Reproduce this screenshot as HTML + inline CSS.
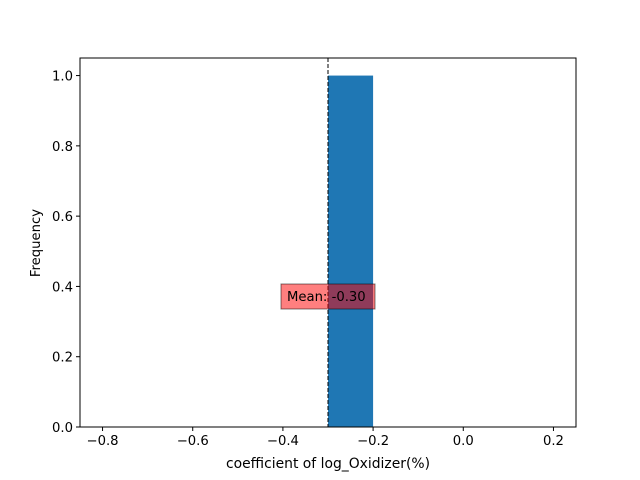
<!DOCTYPE html>
<html><head><meta charset="utf-8"><style>body{margin:0;background:#fff}svg{display:block;font-family:"DejaVu Sans","Liberation Sans",sans-serif}</style></head>
<body>
<svg id="c" width="640" height="480" xmlns="http://www.w3.org/2000/svg"></svg>
<script>
const binEdges = [-0.3, -0.2];
const binCounts = [1.0];
const meanValue = -0.30;
const xTicks = [-0.8, -0.6, -0.4, -0.2, 0.0, 0.2];
const yTicks = [0.0, 0.2, 0.4, 0.6, 0.8, 1.0];
const L=80,R=576,T=58,B=427, xmin=-0.85,xmax=0.25,ymin=0,ymax=1.05;
const sx=v=>L+(v-xmin)/(xmax-xmin)*(R-L);
const sy=v=>B-(v-ymin)/(ymax-ymin)*(B-T);
const svg=document.getElementById('c');
const NS='http://www.w3.org/2000/svg';
function mk(t,a,p){const e=document.createElementNS(NS,t);for(const k in a)e.setAttribute(k,a[k]);(p||svg).appendChild(e);return e;}
for(let i=0;i<binCounts.length;i++){
 const r=mk('rect',{x:sx(binEdges[i]),y:sy(binCounts[i]),width:sx(binEdges[i+1])-sx(binEdges[i]),height:sy(0)-sy(binCounts[i]),fill:'#1f77b4'});
 
 
}
const ml=mk('line',{x1:sx(meanValue),x2:sx(meanValue),y1:T,y2:B,stroke:'#000','stroke-width':1,'stroke-dasharray':'4,2'});


const bx=mk('rect',{x:281,y:284,width:94,height:25,fill:'rgba(255,0,0,0.5)',stroke:'rgba(0,0,0,0.5)'});


const mt=mk('text',{x:287,y:301,'font-size':13.2,fill:'#000'});mt.textContent='Mean: '+meanValue.toFixed(2);


const fr=mk('rect',{x:L,y:T,width:R-L,height:B-T,fill:'none',stroke:'#000','stroke-width':1});


xTicks.forEach(v=>{const x=sx(v);mk('line',{x1:x,x2:x,y1:B,y2:B+4,stroke:'#000'});
 const t=mk('text',{x:x,y:B+18,'font-size':13.2,'text-anchor':'middle'});t.textContent=(v<0?'\u2212':'')+Math.abs(v).toFixed(1);
 
 });
yTicks.forEach(v=>{const y=sy(v);mk('line',{x1:L-4,x2:L,y1:y,y2:y,stroke:'#000'});
 const t=mk('text',{x:L-7,y:y+5,'font-size':13.2,'text-anchor':'end'});t.textContent=v.toFixed(1);
 
 });
const xt=mk('text',{x:328,y:468,'font-size':13.9,'text-anchor':'middle'});xt.textContent='coefficient of log_Oxidizer(%)';


const yt=mk('text',{x:40,y:243,'font-size':13.2,'text-anchor':'middle',transform:'rotate(-90 40 243)'});yt.textContent='Frequency';


</script>
</body></html>
